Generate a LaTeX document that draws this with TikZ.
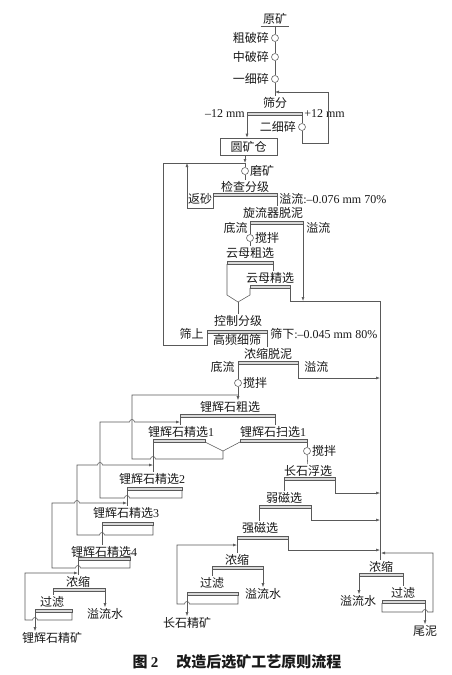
\documentclass[tikz,border=0pt]{standalone}
\usepackage{fontspec}
\setmainfont{Noto Sans CJK SC}
\newfontfamily\tms{Liberation Serif}
\usetikzlibrary{arrows.meta,positioning}
\newcommand{\lat}[1]{{\tms #1}}
% bar of a unit operation: name, left, right, top
\newcommand{\opbar}[4]{%
  \draw[bar] (#2,#4) rectangle (#3,#4+3);
  \coordinate (#1-l) at (#2,#4+3);
  \coordinate (#1-r) at (#3,#4+3);}

\begin{document}
\begin{tikzpicture}[x=1pt,y=-1pt,black!65,line width=0.55pt,
    every node/.style={text=black!90,inner sep=1pt,font=\fontsize{12}{14}\selectfont},
    mix/.style={circle,draw,minimum size=7pt,inner sep=0pt},
    bar/.style={draw=black!65,fill=black!15},
    silobox/.style={draw,minimum width=57pt,minimum height=17pt},
    arr/.style={-{Latex[length=4pt,width=3pt]}}]
\useasboundingbox (0,0) rectangle (451,675);

% crushing
\node (ore) at (275,19) {原矿};
\draw ([xshift=-1pt]ore.south west) -- ([xshift=1pt]ore.south east);
\node[mix] (crush1) at (275,38) {};
\node[mix] (crush2) at (275,57) {};
\node[mix] (crush3) at (275,79) {};
\node[left=1pt of crush1] (crush1-t) {粗破碎};
\node[left=1pt of crush2] (crush2-t) {中破碎};
\node[left=1pt of crush3] (crush3-t) {一细碎};
\node (screen) at (275,103) {筛分};
\draw (ore.south) -- (crush1) -- (crush2) -- (crush3) -- (screen);
\opbar{scr}{247}{302}{112}
\node[anchor=east] (fine) at (246,114) {\lat{–12 mm}};
\node[anchor=west] (coarse) at (303,114) {\lat{+12 mm}};
\node[mix] (crush4) at (302,127) {};
\node[left=1pt of crush4] (crush4-t) {二细碎};
\coordinate (ret) at (275,92);
\draw (scr-r) -- (crush4);
\draw[arr] (crush4) -- (302,143) -| (328,92) -- (ret);
\node[silobox] (silo) at (248.5,146.5) {圆矿仓};
\draw[arr] (scr-l) -- (scr-l |- silo.north);

% grinding and classification
\node[mix] (mill) at (245,171) {};
\node[right=0pt of mill] (mill-t) {磨矿};
\coordinate (feed) at (245,163);
\draw[arr] (silo.south -| feed) -- (feed);
\draw (feed) -- (mill);
\node (cls) at (245,186.5) {检查分级};
\opbar{cls}{213}{277}{193}
\draw (mill) -- (cls);
\node (sand) at (200,199) {返砂};
\coordinate (sandin) at (187,163);
\draw[arr] (cls-l) -- (213,208) -| (sandin);
\node[anchor=west] (ovf) at (278,199) {溢流\lat{:–0.076 mm 70\%}};
\node (desl) at (273,213) {旋流器脱泥};
\draw (cls-r) -- (cls-r |- desl.north);
\opbar{desl}{250}{303}{221}
\node[anchor=east] (desl-u) at (249,228) {底流};
\node[anchor=west] (desl-o) at (305,228) {溢流};

% mica flotation
\node[mix] (agit1) at (250,238) {};
\node[right=0pt of agit1] (agit1-t) {搅拌};
\draw (desl-l) -- (agit1);
\node (micaR) at (250,253) {云母粗选};
\draw (agit1) -- (micaR);
\opbar{micaR}{227}{273}{261}
\node (micaC) at (270,278) {云母精选};
\draw (micaR-r) -- (micaR-r |- micaC.north);
\opbar{micaC}{250}{290}{285}
\coordinate (cone) at (238,302);
\draw (micaR-l) -- (227,295) -- (cone) -- (250,295) -- (micaC-l);
\node (ctrl) at (238,321) {控制分级};
\draw (cone) -- (ctrl);
\opbar{ctrl}{207}{267}{330}
\node (hfs) at (237,339.5) {高频细筛};
\node[anchor=east] (ctrl-o) at (205,334) {筛上};
\node[anchor=west] (ctrl-u) at (269,334) {筛下\lat{:–0.045 mm 80\%}};
\draw (ctrl-l) -- (207,345) -| (163,163) -- (feed);

% tailings line
\coordinate (tl) at (380,301);
\node (thk4) at (381,566.5) {浓缩};
\draw (micaC-r) |- (tl) -- (tl |- thk4.north);
\draw[arr] (desl-r) -- (desl-r |- tl);

% desliming
\node (thkd) at (268,354) {浓缩脱泥};
\draw (ctrl-r) -- (ctrl-r |- thkd.north);
\opbar{thkd}{238}{298}{361}
\node[anchor=east] (thkd-u) at (236,367) {底流};
\node[anchor=west] (thkd-o) at (303,367) {溢流};
\coordinate (t1) at (380,378);
\draw[arr] (thkd-r) |- (t1);

% spodumene flotation
\node[mix] (agit2) at (238,383) {};
\node[right=0pt of agit2] (agit2-t) {搅拌};
\draw (thkd-l) -- (agit2);
\node (rough) at (230,407) {锂辉石粗选};
\draw[arr] (agit2) -- (agit2 |- rough.north);
\opbar{rough}{180}{275}{414}
\node (cl1) at (181,432) {锂辉石精选\lat{1}};
\node (scav) at (273,432) {锂辉石扫选\lat{1}};
\draw (rough-l) -- (rough-l |- cl1.north);
\draw (rough-r) -- (rough-r |- scav.north);
\opbar{cl1}{153}{205}{439}
\opbar{scav}{240}{307}{439}
\coordinate (vee) at (223,451);
\coordinate (rec1) at (238,395);
\draw (cl1-r) -- (vee) -- (scav-l);
\draw (vee) -- (223,459) -- (155.5,459) arc[start angle=0,end angle=-180,radius=2.5] -- (132,459) |- (rec1);

\coordinate (rec2) at (180,422);
\node (cl2) at (152,479) {锂辉石精选\lat{2}};
\draw (cl1-l) -- (cl1-l |- cl2.north);
\opbar{cl2}{127}{182}{487}
\draw[arr] (cl2-r) -- (182,498) -- (129.5,498) arc[start angle=0,end angle=-180,radius=2.5] -- (100,498) -- (100,422) -- (129.5,422) arc[start angle=180,end angle=360,radius=2.5] -- (rec2);

\coordinate (rec3) at (153,465);
\node (cl3) at (126,513) {锂辉石精选\lat{3}};
\draw (cl2-l) -- (cl2-l |- cl3.north);
\opbar{cl3}{102}{153}{522}
\draw[arr] (cl3-r) -- (153,535) -- (104.5,535) arc[start angle=0,end angle=-180,radius=2.5] -- (77,535) -- (77,465) -- (97.5,465) arc[start angle=180,end angle=360,radius=2.5] -- (rec3);

\coordinate (rec4) at (127,503);
\node (cl4) at (104,551.5) {锂辉石精选\lat{4}};
\draw (cl3-l) -- (cl3-l |- cl4.north);
\opbar{cl4}{78}{130}{557}
\draw[arr] (cl4-r) -- (130,568) -- (80.5,568) arc[start angle=0,end angle=-180,radius=2.5] -- (52,568) -- (52,503) -- (74.5,503) arc[start angle=180,end angle=360,radius=2.5] -- (rec4);

\coordinate (rec5) at (78,573);
\node (thk2) at (78,582) {浓缩};
\draw (cl4-l) -- (cl4-l |- thk2.north);
\opbar{thk2}{53}{105}{588}
\node (filt1) at (52,602) {过滤};
\node (water1) at (105,614) {溢流水};
\draw (thk2-l) -- (thk2-l |- filt1.north);
\draw[arr] (thk2-r) -- (thk2-r |- water1.north);
\opbar{filt1}{35}{72}{609}
\draw[arr] (filt1-r) -- (72,620) -- (37.5,620) arc[start angle=0,end angle=-180,radius=2.5] -- (25,620) |- (rec5);
\node (spc) at (52,638) {锂辉石精矿};
\draw[arr] (filt1-l) -- (filt1-l |- spc.north);

% feldspar
\node[mix] (agit3) at (307,451) {};
\node[right=0pt of agit3] (agit3-t) {搅拌};
\draw (scav-r) -- (agit3);
\node (fsp) at (308,471) {长石浮选};
\draw (agit3) -- (fsp);
\opbar{fsp}{284}{335}{477}
\coordinate (t2) at (380,493);
\draw[arr] (fsp-r) |- (t2);
\node (wms) at (284,498) {弱磁选};
\draw (fsp-l) -- (fsp-l |- wms.north);
\opbar{wms}{259}{311}{505}
\coordinate (t3) at (380,520);
\draw[arr] (wms-r) |- (t3);
\node (hms) at (260,528) {强磁选};
\draw (wms-l) -- (wms-l |- hms.north);
\opbar{hms}{237}{288}{536}
\coordinate (t4) at (380,550);
\draw[arr] (hms-r) |- (t4);
\node (thk3) at (237,559.5) {浓缩};
\draw (hms-l) -- (hms-l |- thk3.north);
\coordinate (rec6) at (237,545);
\opbar{thk3}{212}{263}{566}
\node (filt2) at (212,583) {过滤};
\node (water2) at (263,594) {溢流水};
\draw (thk3-l) -- (thk3-l |- filt2.north);
\draw[arr] (thk3-r) -- (thk3-r |- water2.north);
\opbar{filt2}{187}{238}{592}
\draw[arr] (filt2-r) -- (238,604) -- (189.5,604) arc[start angle=0,end angle=-180,radius=2.5] -- (177,604) |- (rec6);
\node (fc) at (187,623) {长石精矿};
\draw[arr] (filt2-l) -- (filt2-l |- fc.north);

% tailings
\opbar{thk4}{359}{403}{573}
\node (water3) at (358,601) {溢流水};
\node (filt3) at (403,593) {过滤};
\draw[arr] (thk4-l) -- (thk4-l |- water3.north);
\draw (thk4-r) -- (thk4-r |- filt3.north);
\opbar{filt3}{382}{425}{600}
\coordinate (rec7) at (381,553);
\draw[arr] (filt3-l) -- (382,612) -- (422.5,612) arc[start angle=180,end angle=360,radius=2.5] -- (433,612) |- (rec7);
\node (slime) at (425,631) {尾泥};
\draw[arr] (filt3-r) -- (filt3-r |- slime.north);

\node[font=\fontsize{15}{17}\selectfont\bfseries] (cap) at (237,662) {图 \lat{2}\hspace{1.2em}改造后选矿工艺原则流程};
\end{tikzpicture}
\end{document}
